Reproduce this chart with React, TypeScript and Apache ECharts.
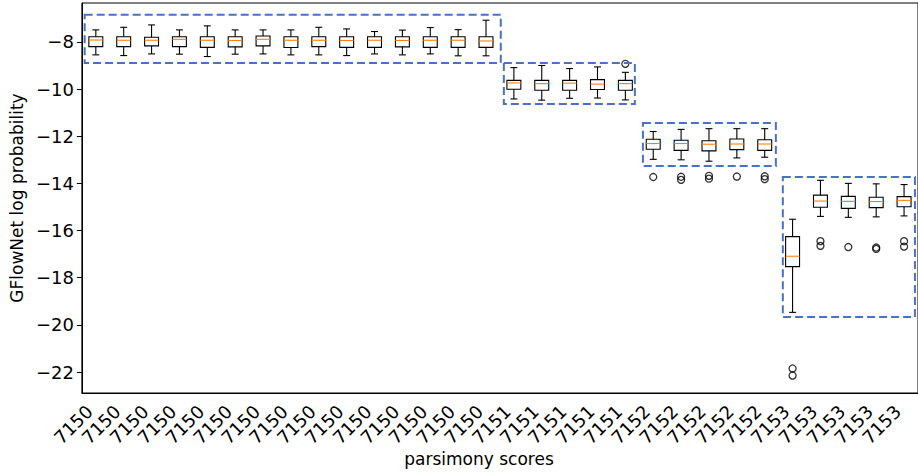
import React, { useEffect, useRef } from "react";
import * as echarts from "echarts";

const categories = [
  "7150", "7150", "7150", "7150", "7150", "7150", "7150", "7150", "7150", "7150",
  "7150", "7150", "7150", "7150", "7150",
  "7151", "7151", "7151", "7151", "7151",
  "7152", "7152", "7152", "7152", "7152",
  "7153", "7153", "7153", "7153", "7153",
];

const whiskerHigh = [
  -7.49, -7.38, -7.28, -7.49, -7.32, -7.49, -7.49, -7.49, -7.38, -7.45,
  -7.56, -7.5, -7.39, -7.48, -7.08,
  -9.09, -9.0, -9.13, -9.06, -9.29,
  -11.8, -11.71, -11.68, -11.68, -11.68,
  -15.52, -13.87, -14.0, -14.02, -14.05,
];
const q3 = [
  -7.78, -7.78, -7.8, -7.78, -7.78, -7.78, -7.75, -7.78, -7.78, -7.78,
  -7.78, -7.78, -7.78, -7.78, -7.78,
  -9.63, -9.63, -9.63, -9.6, -9.63,
  -12.13, -12.17, -12.19, -12.12, -12.15,
  -16.26, -14.5, -14.55, -14.59, -14.56,
];
const median = [
  -7.92, -7.93, -7.93, -7.89, -7.93, -7.94, -7.89, -7.93, -7.93, -7.94,
  -7.93, -7.94, -7.93, -7.93, -7.96,
  -9.74, -9.77, -9.75, -9.79, -9.77,
  -12.31, -12.31, -12.34, -12.33, -12.33,
  -17.09, -14.75, -14.76, -14.77, -14.72,
];
const q1 = [
  -8.2, -8.2, -8.17, -8.2, -8.23, -8.21, -8.17, -8.24, -8.2, -8.23,
  -8.23, -8.21, -8.23, -8.23, -8.23,
  -10.01, -10.05, -10.05, -10.02, -10.05,
  -12.55, -12.6, -12.62, -12.57, -12.6,
  -17.53, -15.01, -15.06, -15.03, -14.99,
];
const whiskerLow = [
  -8.55, -8.58, -8.51, -8.52, -8.62, -8.52, -8.51, -8.55, -8.55, -8.58,
  -8.51, -8.55, -8.51, -8.59, -8.59,
  -10.42, -10.47, -10.39, -10.38, -10.46,
  -12.98, -13.0, -13.06, -12.92, -12.89,
  -19.47, -15.4, -15.44, -15.42, -15.38,
];

const outlierIndex = [19, 20, 21, 21, 22, 22, 23, 24, 24, 25, 25, 26, 26, 27, 28, 28, 29, 29];
const outlierValue = [
  -8.93, -13.73, -13.72, -13.85, -13.68, -13.8, -13.71, -13.7, -13.82,
  -21.85, -22.15, -16.45, -16.65, -16.7, -16.72, -16.78, -16.45, -16.68,
];

const yTicks = [-22, -20, -18, -16, -14, -12, -10, -8];

const regionStart = [-0.4, 14.64, 19.63, 24.65];
const regionEnd = [14.53, 19.34, 24.4, 29.39];
const regionTop = [-6.85, -8.89, -11.44, -13.73];
const regionBottom = [-8.89, -10.63, -13.26, -19.67];

const xTitle = "parsimony scores";
const yTitle = "GFlowNet log probability";

const FONT = "DejaVu Sans";

export default function App() {
  const ref = useRef<HTMLDivElement>(null);
  useEffect(() => {
    if (!ref.current) return;
    const chart = echarts.init(ref.current, null, { renderer: "svg" });
    const boxData = categories.map((_, i) => [
      i, whiskerLow[i], q1[i], median[i], q3[i], whiskerHigh[i],
    ]);
    const outliers = outlierIndex.map((idx, k) => [idx, outlierValue[k]]);
    const regions = regionStart.map((s, k) => [s, regionEnd[k], regionTop[k], regionBottom[k]]);

    chart.setOption({
      animation: false,
      grid: {
        left: 77, top: 3, width: 842, height: 390,
        show: true, borderColor: "#000", borderWidth: 1, backgroundColor: "transparent",
      },
      graphic: [
        {
          type: "text",
          x: 479,
          y: 459,
          style: {
            text: xTitle,
            fontFamily: FONT,
            fontSize: 17,
            fill: "#000",
            align: "center",
            verticalAlign: "middle",
          },
        },
      ],
      xAxis: [
        {
          type: "category",
          data: categories,
          boundaryGap: true,
          axisLine: { lineStyle: { color: "#000", width: 1 } },
          axisTick: { alignWithLabel: true, interval: 0, length: 5, lineStyle: { color: "#000" } },
          axisLabel: {
            interval: 0,
            rotate: 45,
            margin: 9,
            padding: [0, 9, 0, 0],
            fontFamily: FONT,
            fontSize: 18,
            color: "#000",
          },
          splitLine: { show: false },
        },
        { type: "value", min: -0.5, max: 29.5, show: false },
      ],
      yAxis: {
        type: "value",
        min: -22.89,
        max: -6.35,
        name: yTitle,
        nameLocation: "middle",
        nameGap: 47,
        nameTextStyle: { fontFamily: FONT, fontSize: 17, color: "#000" },
        axisLine: { show: true, onZero: false, lineStyle: { color: "#000", width: 1 } },
        axisTick: { show: true, length: 5, customValues: yTicks, lineStyle: { color: "#000" } },
        axisLabel: {
          customValues: yTicks,
          margin: 8,
          fontFamily: FONT,
          fontSize: 18,
          color: "#000",
          formatter: (v: number) => String(v).replace("-", "\u2212"),
        },
        splitLine: { show: false },
      },
      series: [
        {
          type: "custom",
          xAxisIndex: 0,
          encode: { x: 0, y: [1, 2, 3, 4, 5] },
          data: boxData,
          renderItem: (params: any, api: any) => {
            const i = api.value(0);
            const lo = api.coord([i, api.value(1)]);
            const b1 = api.coord([i, api.value(2)]);
            const md = api.coord([i, api.value(3)]);
            const b3 = api.coord([i, api.value(4)]);
            const hi = api.coord([i, api.value(5)]);
            const band = api.size([1, 0])[0];
            const hw = band * 0.25;
            const cw = band * 0.125;
            const x = lo[0];
            const stroke = { stroke: "#000", lineWidth: 1.1, fill: "none" };
            return {
              type: "group",
              children: [
                { type: "line", shape: { x1: x, y1: b1[1], x2: x, y2: lo[1] }, style: stroke },
                { type: "line", shape: { x1: x, y1: b3[1], x2: x, y2: hi[1] }, style: stroke },
                { type: "line", shape: { x1: x - cw, y1: lo[1], x2: x + cw, y2: lo[1] }, style: stroke },
                { type: "line", shape: { x1: x - cw, y1: hi[1], x2: x + cw, y2: hi[1] }, style: stroke },
                {
                  type: "rect",
                  shape: { x: x - hw, y: b3[1], width: 2 * hw, height: b1[1] - b3[1] },
                  style: stroke,
                },
                {
                  type: "line",
                  shape: { x1: x - hw, y1: md[1], x2: x + hw, y2: md[1] },
                  style: { stroke: "#ff7f0e", lineWidth: 1.1 },
                },
              ],
            };
          },
          z: 3,
        },
        {
          type: "scatter",
          xAxisIndex: 0,
          data: outliers,
          symbol: "circle",
          symbolSize: 7,
          itemStyle: { color: "rgba(0,0,0,0)", borderColor: "#000", borderWidth: 1.3 },
          z: 4,
        },
        {
          type: "custom",
          xAxisIndex: 1,
          encode: { x: [0, 1], y: [2, 3] },
          data: regions,
          renderItem: (params: any, api: any) => {
            const p0 = api.coord([api.value(0), api.value(2)]);
            const p1 = api.coord([api.value(1), api.value(3)]);
            return {
              type: "rect",
              shape: { x: p0[0], y: p0[1], width: p1[0] - p0[0], height: p1[1] - p0[1] },
              style: { fill: "none", stroke: "#4a72c4", lineWidth: 2, lineDash: [8, 4] },
            };
          },
          z: 5,
        },
      ],
    });
    return () => chart.dispose();
  }, []);
  return (
    <div
      ref={ref}
      style={{ position: "fixed", left: 0, top: 0, width: 918, height: 475, background: "#fff" }}
    />
  );
}
